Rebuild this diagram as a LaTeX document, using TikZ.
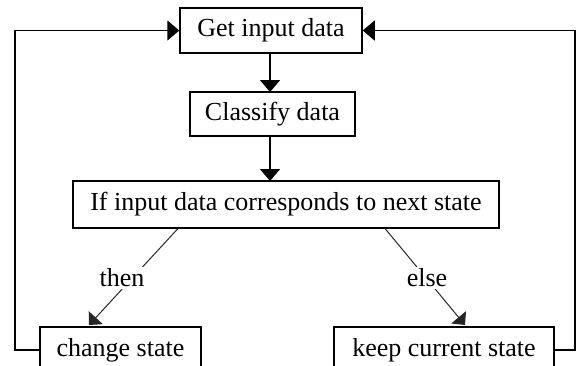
\documentclass[tikz,border=0pt]{standalone}
\usepackage{fontspec}
\setmainfont{Liberation Serif}
\usetikzlibrary{arrows.meta}
\begin{document}
\begin{tikzpicture}[x=0.5pt,y=-0.5pt,
  box/.style={draw,line width=0.75pt,inner sep=0pt,font=\fontsize{13}{15}\selectfont},
  flow/.style={line width=0.75pt,-{Triangle[width=10pt,length=6pt]}},
  diag/.style={line width=0.5pt,black!85,-{Triangle[width=9.5pt,length=5pt]}},
  lbl/.style={fill=white,inner sep=1pt,font=\fontsize{13}{15}\selectfont}]
\useasboundingbox (0,0) rectangle (584,365);
\clip (0,0) rectangle (584,365);
\node[box,minimum width=91pt,minimum height=22.5pt] (get) at (271,30.5) {Get input data};
\node[box,minimum width=82.5pt,minimum height=22pt] (cls) at (272.5,114) {Classify data};
\node[box,minimum width=213pt,minimum height=23.5pt] (cond) at (286,204.5) {If input data corresponds to next state};
\node[box,minimum width=80.5pt,minimum height=23pt] (chg) at (120.5,350) {change state};
\node[box,minimum width=110pt,minimum height=23pt] (keep) at (444,350) {keep current state};
\coordinate (t1) at (178,228.5);
\coordinate (t2) at (89,325);
\coordinate (e1) at (385,228.5);
\coordinate (e2) at (465,325);
\coordinate (lc) at (15,30.5);
\coordinate (rc) at (575,30.5);
\draw[flow] (get.south -| 270,0) -- (270,92);
\draw[flow] (270,136) -- (270,181);
\draw[diag] (t1) -- (t2);
\draw[diag] (e1) -- (e2);
\node[lbl] (then) at (122,278) {then};
\node[lbl] (else) at (427,278) {else};
\draw[flow] (chg.west) -| (lc) -- (get.west);
\draw[flow] (keep.east) -| (rc) -- (get.east);
\end{tikzpicture}
\end{document}
